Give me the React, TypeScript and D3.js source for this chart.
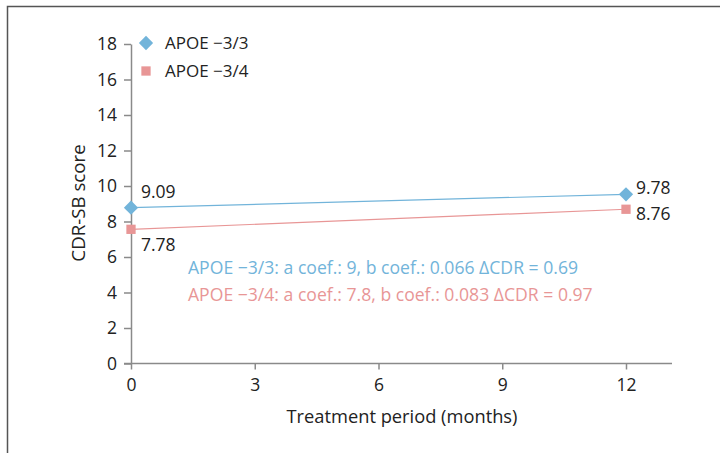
import React, { useEffect, useRef } from 'react';
import * as d3 from 'd3';

const months = [0, 12];
const xTicks = [0, 3, 6, 9, 12];
const yTicks = [0, 2, 4, 6, 8, 10, 12, 14, 16, 18];
const seriesNames = ['APOE \u22123/3', 'APOE \u22123/4'];
const apoe33 = [8.78, 9.53];
const apoe44 = [7.56, 8.69];
const apoe33Labels = ['9.09', '9.78'];
const apoe44Labels = ['7.78', '8.76'];
const notes = [
  'APOE \u22123/3: a coef.: 9, b coef.: 0.066 \u0394CDR = 0.69',
  'APOE \u22123/4: a coef.: 7.8, b coef.: 0.083 \u0394CDR = 0.97',
];

const BLUE = '#72b4da';
const PINK = '#e89696';
const FONT = '"Open Sans", Lato, sans-serif';

const App = () => {
  const svgRef = useRef<SVGSVGElement>(null);

  useEffect(() => {
    const svg = d3.select(svgRef.current);
    svg.selectAll('*').remove();
    const width = 720;
    const height = 453;
    svg.attr('width', width).attr('height', height);

    // figure frame (cut off at right and bottom)
    svg
      .append('path')
      .attr('d', `M7.5,${height + 5} L7.5,6.5 L${width + 5},6.5`)
      .attr('fill', 'none')
      .attr('stroke', '#555')
      .attr('stroke-width', 1.5);

    const x = d3.scaleLinear().domain([0, 12]).range([131, 626]);
    const y = d3.scaleLinear().domain([0, 18]).range([363.5, 44]);

    const axisColor = '#8a8a8a';

    // y axis
    const gy = svg
      .append('g')
      .attr('transform', `translate(${x(0)},0)`)
      .call(d3.axisLeft(y).tickValues(yTicks).tickSize(7).tickSizeOuter(0));
    gy.select('.domain').attr('stroke', axisColor).attr('stroke-width', 1.5);
    gy.selectAll('.tick line').attr('stroke', axisColor).attr('stroke-width', 1.5);
    gy.selectAll('.tick text')
      .attr('font-family', FONT)
      .attr('font-size', 17.5)
      .attr('fill', '#222')
      .attr('x', -14);

    // x axis, line runs past the last tick
    svg
      .append('line')
      .attr('x1', x(0) - 7)
      .attr('x2', 672)
      .attr('y1', y(0))
      .attr('y2', y(0))
      .attr('stroke', axisColor)
      .attr('stroke-width', 1.5);
    const gx = svg
      .append('g')
      .attr('transform', `translate(0,${y(0)})`)
      .call(d3.axisBottom(x).tickValues(xTicks).tickSize(6).tickSizeOuter(0));
    gx.select('.domain').remove();
    gx.selectAll('.tick line').attr('stroke', axisColor).attr('stroke-width', 1.5);
    gx.selectAll('.tick text')
      .attr('font-family', FONT)
      .attr('font-size', 17.5)
      .attr('fill', '#222')
      .attr('y', 15);

    // axis titles
    svg
      .append('text')
      .attr('x', 402)
      .attr('y', 417)
      .attr('dy', '0.35em')
      .attr('text-anchor', 'middle')
      .attr('font-family', FONT)
      .attr('font-size', 18.3)
      .attr('fill', '#222')
      .text('Treatment period (months)');
    svg
      .append('text')
      .attr('transform', `translate(78,203) rotate(-90)`)
      .attr('dy', '0.35em')
      .attr('text-anchor', 'middle')
      .attr('font-family', FONT)
      .attr('font-size', 18.7)
      .attr('fill', '#222')
      .text('CDR-SB score');

    const line = d3
      .line<number>()
      .x((_, i) => x(months[i]))
      .y((d) => y(d));

    svg.append('path').datum(apoe33).attr('d', line).attr('fill', 'none').attr('stroke', BLUE).attr('stroke-width', 1.2);
    svg.append('path').datum(apoe44).attr('d', line).attr('fill', 'none').attr('stroke', PINK).attr('stroke-width', 1.2);

    const diamond = d3.symbol().type(d3.symbolDiamond2).size(130);
    const square = d3.symbol().type(d3.symbolSquare2).size(110);

    svg
      .append('g')
      .selectAll('path')
      .data(apoe44)
      .enter()
      .append('path')
      .attr('d', square)
      .attr('transform', (d, i) => `translate(${x(months[i])},${y(d)})`)
      .attr('fill', PINK)
      .attr('stroke', 'none');

    svg
      .append('g')
      .selectAll('path')
      .data(apoe33)
      .enter()
      .append('path')
      .attr('d', diamond)
      .attr('transform', (d, i) => `translate(${x(months[i])},${y(d)})`)
      .attr('fill', BLUE)
      .attr('stroke', 'none');

    // point labels
    const labelStyle = (sel: any) =>
      sel.attr('font-family', FONT).attr('font-size', 17.5).attr('fill', '#222');
    svg
      .append('g')
      .selectAll('text')
      .data(apoe33Labels)
      .enter()
      .append('text')
      .attr('x', (d, i) => x(months[i]) + 10)
      .attr('y', (d, i) => y(apoe33[i]) + (i === 0 ? -16 : -6))
      .attr('dy', '0.35em')
      .call(labelStyle)
      .text((d) => d);
    svg
      .append('g')
      .selectAll('text')
      .data(apoe44Labels)
      .enter()
      .append('text')
      .attr('x', (d, i) => x(months[i]) + 10)
      .attr('y', (d, i) => y(apoe44[i]) + (i === 0 ? 16 : 5))
      .attr('dy', '0.35em')
      .call(labelStyle)
      .text((d) => d);

    // regression notes
    svg
      .append('g')
      .selectAll('text')
      .data(notes)
      .enter()
      .append('text')
      .attr('x', 188)
      .attr('y', (d, i) => 268 + i * 27)
      .attr('dy', '0.35em')
      .attr('font-family', FONT)
      .attr('font-size', 17.6)
      .attr('fill', (d, i) => (i === 0 ? BLUE : PINK))
      .text((d) => d);

    // legend
    const legend = svg.append('g').attr('transform', 'translate(146,43)');
    seriesNames.forEach((name, i) => {
      const g = legend.append('g').attr('transform', `translate(0,${i * 28})`);
      g.append('path')
        .attr('d', i === 0 ? diamond : square)
        .attr('fill', i === 0 ? BLUE : PINK);
      g.append('text')
        .attr('x', 19)
        .attr('dy', '0.35em')
        .attr('font-family', FONT)
        .attr('font-size', 17)
        .attr('fill', '#222')
        .text(name);
    });
  }, []);

  return <svg ref={svgRef} style={{ position: 'absolute', left: 0, top: 0 }}></svg>;
};

export default App;
